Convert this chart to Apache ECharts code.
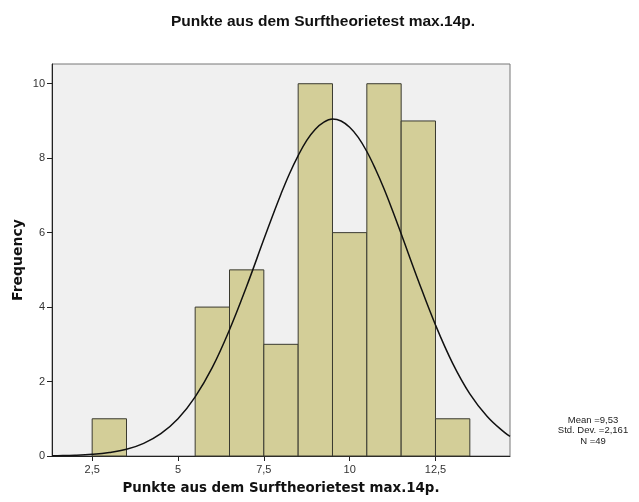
<!DOCTYPE html>
<html>
<head>
<meta charset="utf-8">
<script src="https://cdn.jsdelivr.net/npm/echarts@6/dist/echarts.min.js"></script>
<style>html,body{margin:0;padding:0;background:#fff}#c{width:639px;height:502px}</style>
</head>
<body>
<div id="c"></div>
<script>
// Histogram bins (lower edge, upper edge) and frequencies
var binStart = [2.5, 5.5, 6.5, 7.5, 8.5, 9.5, 10.5, 11.5, 12.5];
var binEnd   = [3.5, 6.5, 7.5, 8.5, 9.5, 10.5, 11.5, 12.5, 13.5];
var frequency = [1, 4, 5, 3, 10, 6, 10, 9, 1];
// Normal curve (x, frequency)
var curveX = [1.33, 1.5, 2, 2.5, 3, 3.5, 4, 4.5, 5, 5.5, 6, 6.5, 7, 7.5, 7.75, 8, 8.25, 8.5, 8.75, 9, 9.25, 9.5, 9.75, 10, 10.25, 10.5, 10.75, 11, 11.25, 11.5, 12, 12.5, 13, 13.5, 14, 14.5, 14.67];
var curveY = [0.007, 0.009, 0.021, 0.046, 0.094, 0.18, 0.34, 0.60, 1.0, 1.59, 2.38, 3.39, 4.56, 5.82, 6.44, 7.04, 7.59, 8.07, 8.48, 8.78, 8.97, 9.05, 9.0, 8.83, 8.56, 8.18, 7.71, 7.18, 6.59, 5.97, 4.71, 3.52, 2.49, 1.67, 1.07, 0.64, 0.53];
var xTicks = [2.5, 5, 7.5, 10, 12.5];
var yTicks = [0, 2, 4, 6, 8, 10];
var statsLines = ['Mean =9,53', 'Std. Dev. =2,161', 'N =49'];

var bars = binStart.map(function (s, i) { return [s, binEnd[i], frequency[i]]; });
var curve = curveX.map(function (x, i) { return [x, curveY[i]]; });

var chart = echarts.init(document.getElementById('c'), null, {renderer: 'canvas'});
chart.setOption({
  animation: false,
  backgroundColor: '#ffffff',
  title: {
    text: 'Punkte aus dem Surftheorietest max.14p.',
    left: 318, top: 9, textAlign: 'center',
    textStyle: {fontFamily: 'Liberation Sans', fontWeight: 'bold', fontSize: 15.5, color: '#111'}
  },
  grid: {
    left: 52, top: 64, right: 129, bottom: 46,
    show: true, backgroundColor: '#f0f0f0', borderColor: '#777', borderWidth: 1
  },
  xAxis: {
    type: 'value', min: 1.33, max: 14.67,
    name: 'Punkte aus dem Surftheorietest max.14p.',
    nameLocation: 'middle', nameGap: 26,
    nameTextStyle: {fontFamily: 'DejaVu Sans', fontWeight: 'bold', fontSize: 13.4, color: '#111'},
    axisLine: {show: true, lineStyle: {color: '#222', width: 1}},
    axisTick: {show: true, customValues: xTicks, length: 5, lineStyle: {color: '#222'}},
    axisLabel: {customValues: xTicks, color: '#333', fontFamily: 'Liberation Sans', fontSize: 11, margin: 8,
      formatter: function (v) { return String(v).replace('.', ','); }},
    splitLine: {show: false}
  },
  yAxis: {
    type: 'value', min: 0, max: 10.53,
    name: 'Frequency', nameLocation: 'middle', nameGap: 27, nameRotate: 90, nameMoveOverlap: false,
    nameTextStyle: {fontFamily: 'DejaVu Sans', fontWeight: 'bold', fontSize: 14, color: '#111'},
    axisLine: {show: true, lineStyle: {color: '#222', width: 1}},
    axisTick: {show: true, customValues: yTicks, length: 5, lineStyle: {color: '#222'}},
    axisLabel: {customValues: yTicks, color: '#333', fontFamily: 'Liberation Sans', fontSize: 11, margin: 7},
    splitLine: {show: false}
  },
  series: [
    {
      type: 'custom',
      data: bars,
      renderItem: function (params, api) {
        var p0 = api.coord([api.value(0), api.value(2)]);
        var p1 = api.coord([api.value(1), 0]);
        return {
          type: 'rect',
          shape: {x: p0[0], y: p0[1], width: p1[0] - p0[0], height: p1[1] - p0[1]},
          style: {fill: '#d3ce98', stroke: '#3a3a30', lineWidth: 1}
        };
      },
      encode: {x: [0, 1], y: 2},
      z: 2
    },
    {
      type: 'line', data: curve, smooth: 0.4, symbol: 'none',
      lineStyle: {color: '#111', width: 1.5}, z: 3
    }
  ],
  graphic: statsLines.map(function (t, i) {
    return {
      type: 'text',
      style: {text: t, x: 593, y: 420 + i * 10.5, textAlign: 'center', textVerticalAlign: 'middle',
        fontFamily: 'Liberation Sans', fontSize: 9.5, fill: '#222'}
    };
  })
});
</script>
</body>
</html>
